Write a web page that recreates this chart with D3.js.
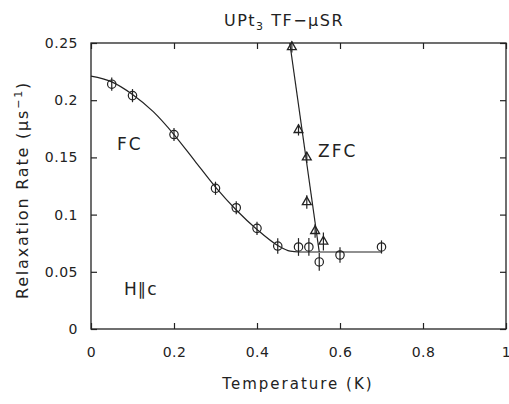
<!DOCTYPE html>
<html>
<head>
<meta charset="utf-8">
<script src="https://cdn.jsdelivr.net/npm/d3@7"></script>
<style>
  body { margin: 0; background: #fff; }
  svg text { font-family: "DejaVu Sans", "Liberation Sans", sans-serif; fill: #222; }
</style>
</head>
<body>
<div id="chart"></div>
<script>
// field-cooled points (circles)
var fcTemp = [0.05, 0.1, 0.2, 0.3, 0.35, 0.4, 0.45, 0.5, 0.525, 0.55, 0.6, 0.7];
var fcRate = [0.214, 0.204, 0.170, 0.123, 0.106, 0.088, 0.0725, 0.0717, 0.0717, 0.0586, 0.0647, 0.0717];
var fcErr  = [0.004, 0.004, 0.004, 0.004, 0.004, 0.004, 0.005, 0.006, 0.006, 0.006, 0.005, 0.004];

// zero-field-cooled points (triangles)
var zfcTemp = [0.484, 0.50, 0.52, 0.52, 0.54, 0.56];
var zfcRate = [0.2465, 0.174, 0.150, 0.111, 0.0857, 0.0765];
var zfcErr  = [0.004, 0.004, 0.004, 0.005, 0.005, 0.007];

// guide lines
var fcCurveT = [0, 0.05, 0.1, 0.15, 0.2, 0.25, 0.3, 0.35, 0.4, 0.45, 0.48, 0.5, 0.7];
var fcCurveR = [0.221, 0.216, 0.205, 0.190, 0.170, 0.147, 0.124, 0.104, 0.087, 0.073, 0.068, 0.0673, 0.0673];
var zfcLineT = [0.479, 0.55];
var zfcLineR = [0.25, 0.0673];

var xTicks = [0, 0.2, 0.4, 0.6, 0.8, 1];
var yTicks = [0, 0.05, 0.1, 0.15, 0.2, 0.25];

function makeChart() {
  var width = 509, height = 404;
  var plotL = 91, plotR = 506, plotT = 43, plotB = 329;

  var svg = d3.select("#chart").append("svg")
      .attr("width", width)
      .attr("height", height);

  var x = d3.scaleLinear().domain([0, 1]).range([plotL, plotR]);
  var y = d3.scaleLinear().domain([0, 0.25]).range([plotB, plotT]);

  // frame
  svg.append("rect")
      .attr("x", plotL).attr("y", plotT)
      .attr("width", plotR - plotL).attr("height", plotB - plotT)
      .attr("fill", "none").attr("stroke", "#222").attr("stroke-width", 1.3);

  // ticks pointing inward on all four sides
  var tickLen = 6;
  svg.append("g").attr("transform", "translate(0," + plotB + ")")
      .call(d3.axisBottom(x).tickValues(xTicks).tickSize(-tickLen).tickPadding(18)
        .tickFormat(function(d) { return String(+d.toFixed(1)); }))
      .call(function(g) { g.select(".domain").remove(); });
  svg.append("g").attr("transform", "translate(0," + plotT + ")")
      .call(d3.axisTop(x).tickValues(xTicks).tickSize(-tickLen).tickFormat(""))
      .call(function(g) { g.select(".domain").remove(); });
  svg.append("g").attr("transform", "translate(" + plotL + ",0)")
      .call(d3.axisLeft(y).tickValues(yTicks).tickSize(-tickLen).tickPadding(13)
        .tickFormat(function(d) { return String(+d.toFixed(2)); }))
      .call(function(g) { g.select(".domain").remove(); });
  svg.append("g").attr("transform", "translate(" + plotR + ",0)")
      .call(d3.axisRight(y).tickValues(yTicks).tickSize(-tickLen).tickFormat(""))
      .call(function(g) { g.select(".domain").remove(); });

  svg.selectAll(".tick line").attr("stroke", "#222").attr("stroke-width", 1.2);
  svg.selectAll(".tick text")
      .style("font-size", "14px")
      .style("font-family", "'DejaVu Sans', sans-serif")
      .style("letter-spacing", "0.5px")
      .attr("fill", "#222");

  // curves
  var fcLine = d3.line().x(function(d) { return x(d[0]); }).y(function(d) { return y(d[1]); })
      .curve(d3.curveMonotoneX);
  svg.append("path")
      .datum(d3.zip(fcCurveT, fcCurveR))
      .attr("d", fcLine)
      .attr("fill", "none").attr("stroke", "#222").attr("stroke-width", 1.2);

  svg.append("path")
      .datum(d3.zip(zfcLineT, zfcLineR))
      .attr("d", d3.line().x(function(d) { return x(d[0]); }).y(function(d) { return y(d[1]); }))
      .attr("fill", "none").attr("stroke", "#222").attr("stroke-width", 1.2);

  // FC points: open circles with error bars
  var fcData = d3.zip(fcTemp, fcRate, fcErr);
  var fcG = svg.append("g").selectAll("g").data(fcData).enter().append("g");
  fcG.append("line")
      .attr("x1", function(d) { return x(d[0]); }).attr("x2", function(d) { return x(d[0]); })
      .attr("y1", function(d) { return y(d[1] - d[2]) + 2; }).attr("y2", function(d) { return y(d[1] + d[2]) - 2; })
      .attr("stroke", "#222").attr("stroke-width", 1.2);
  fcG.append("circle")
      .attr("cx", function(d) { return x(d[0]); }).attr("cy", function(d) { return y(d[1]); })
      .attr("r", 4.2)
      .attr("fill", "none").attr("stroke", "#222").attr("stroke-width", 1.2);

  // ZFC points: open triangles with error bars
  var zfcData = d3.zip(zfcTemp, zfcRate, zfcErr);
  var tri = d3.symbol().type(d3.symbolTriangle).size(34);
  var zG = svg.append("g").selectAll("g").data(zfcData).enter().append("g");
  zG.append("line")
      .attr("x1", function(d) { return x(d[0]); }).attr("x2", function(d) { return x(d[0]); })
      .attr("y1", function(d) { return y(d[1] - d[2]) + 1; }).attr("y2", function(d) { return y(d[1] + d[2]) - 1; })
      .attr("stroke", "#222").attr("stroke-width", 1.2);
  zG.append("path")
      .attr("d", tri)
      .attr("transform", function(d) { return "translate(" + x(d[0]) + "," + y(d[1]) + ")"; })
      .attr("fill", "none").attr("stroke", "#222").attr("stroke-width", 1.3);

  // title
  var title = svg.append("text")
      .attr("x", 284).attr("y", 26)
      .attr("text-anchor", "middle")
      .style("font-size", "16px")
      .style("letter-spacing", "1.5px");
  title.append("tspan").text("UPt");
  title.append("tspan").attr("dy", 4).style("font-size", "11px").text("3");
  title.append("tspan").attr("dy", -4).text("  TF\u2212\u03bcSR");

  // axis titles
  svg.append("text")
      .attr("x", 298).attr("y", 389)
      .attr("text-anchor", "middle")
      .style("font-size", "15px")
      .style("letter-spacing", "2px")
      .text("Temperature (K)");

  var yl = svg.append("text")
      .attr("transform", "translate(28,190) rotate(-90)")
      .attr("text-anchor", "middle")
      .style("font-size", "16px")
      .style("letter-spacing", "1.8px");
  yl.append("tspan").text("Relaxation Rate  (\u03bcs");
  yl.append("tspan").attr("dy", -6).style("font-size", "11px").text("\u22121");
  yl.append("tspan").attr("dy", 6).text(")");

  // in-plot labels
  svg.append("text").attr("x", 117).attr("y", 150).style("font-size", "17px").style("letter-spacing", "2px").text("FC");
  svg.append("text").attr("x", 318).attr("y", 157).style("font-size", "17px").style("letter-spacing", "2px").text("ZFC");
  svg.append("text").attr("x", 124).attr("y", 295).style("font-size", "17px").style("letter-spacing", "1px").text("H\u2225c");
}

makeChart();
</script>
</body>
</html>
